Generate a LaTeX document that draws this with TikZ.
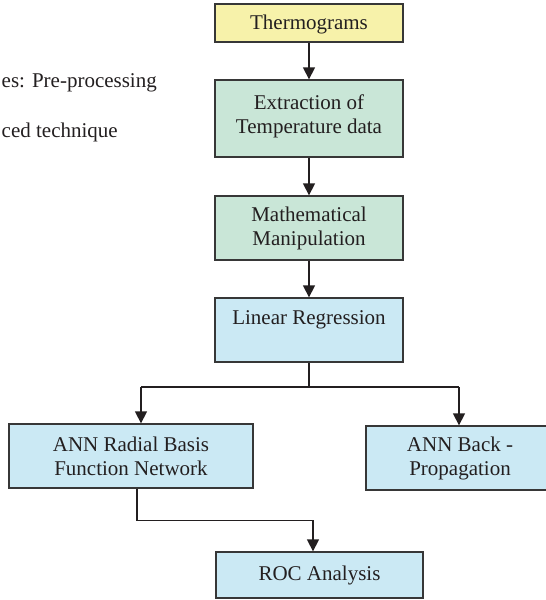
\documentclass[tikz,border=0pt]{standalone}
\usepackage{fontspec}
\setmainfont{Liberation Serif}
\usetikzlibrary{arrows.meta}
\definecolor{boxyellow}{RGB}{247,242,170}
\definecolor{boxgreen}{RGB}{201,230,215}
\definecolor{boxblue}{RGB}{203,233,244}
\definecolor{edgegray}{RGB}{55,55,55}
\definecolor{inkgray}{RGB}{35,31,32}
\tikzset{
  boxnode/.style={draw=edgegray, line width=1.3pt, rectangle, inner sep=0pt,
    align=center, text=inkgray, font=\fontsize{21}{24}\selectfont},
  ybox/.style={boxnode, fill=boxyellow},
  gbox/.style={boxnode, fill=boxgreen},
  bbox/.style={boxnode, fill=boxblue},
  conn/.style={draw=inkgray, line width=1.3pt},
  arr/.style={conn, -{Triangle[length=12pt,width=12pt]}},
  sidetext/.style={text=inkgray, font=\fontsize{21}{24}\selectfont, inner sep=0pt},
}
\begin{document}
\begin{tikzpicture}[x=1pt,y=-1pt]
\useasboundingbox (0,0) rectangle (546,600);
\clip (0,0) rectangle (546,600);
\fill[white] (0,0) rectangle (546,600);
\node[ybox, minimum width=188pt, minimum height=38pt, text depth=2pt] (therm) at (309,23) {Thermograms};
\node[gbox, minimum width=188pt, minimum height=77pt, text depth=8pt] (extr) at (309,118.5) {Extraction of\\Temperature data};
\node[gbox, minimum width=188pt, minimum height=64pt] (math) at (309,228) {Mathematical\\Manipulation};
\node[bbox, minimum width=188pt, minimum height=64pt, text depth=24pt] (linreg) at (309,330) {Linear Regression};
\node[bbox, minimum width=244pt, minimum height=64pt] (rbf) at (131,456) {ANN Radial Basis\\Function Network};
\node[bbox, minimum width=188pt, minimum height=64pt] (back) at (460,458) {ANN Back -\\Propagation};
\node[bbox, minimum width=207pt, minimum height=46pt] (roc) at (319.5,575) {ROC Analysis};
\node[sidetext, anchor=base west] (side1) at (1.5,87) {es: Pre-processing};
\node[sidetext, anchor=base west] (side2) at (1.5,137) {ced technique};
\coordinate (split) at (309,387);
\coordinate (splitL) at (141,387);
\coordinate (splitR) at (459,387);
\draw[arr] (therm) -- (extr);
\draw[arr] (extr) -- (math);
\draw[arr] (math) -- (linreg);
\draw[conn] (linreg.south) -- (split);
\draw[conn] (splitL) -- (splitR);
\draw[arr] (splitL) -- (splitL |- rbf.north);
\draw[arr] (splitR) -- (splitR |- back.north);
\coordinate (rbfout) at ([xshift=6pt]rbf.south);
\coordinate (rocin) at ([xshift=-6.5pt]roc.north);
\draw[arr] (rbfout) -- ++(0,32) -| (rocin);
\end{tikzpicture}
\end{document}
